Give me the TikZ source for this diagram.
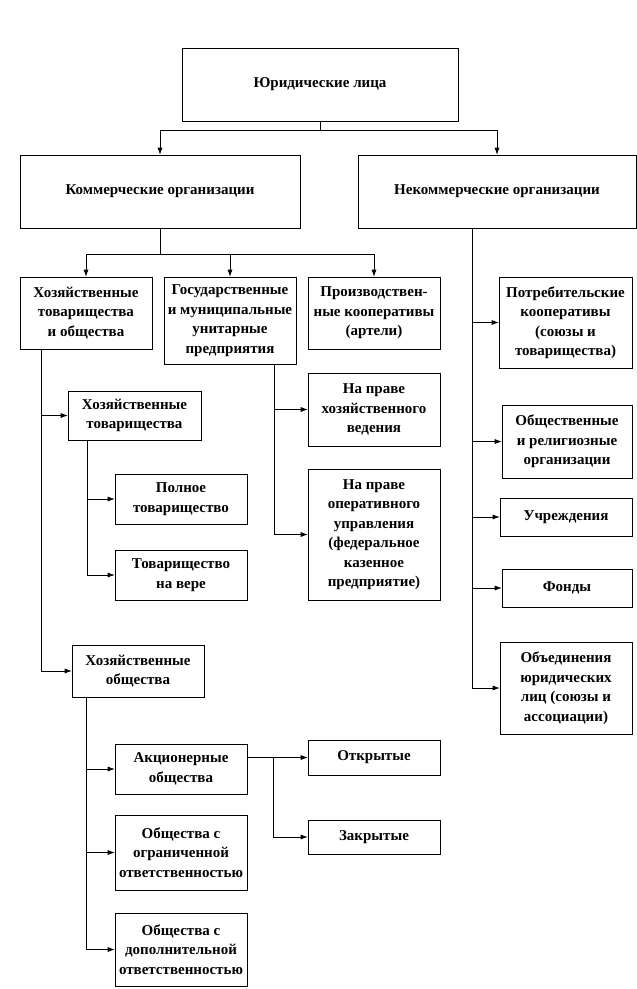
\documentclass[tikz,border=0pt]{standalone}
\usepackage{fontspec}
\setmainfont{Liberation Serif}
\usetikzlibrary{arrows.meta}
\tikzset{
  box/.style={draw, line width=0.6pt, align=center, inner sep=1pt,
    font=\bfseries\fontsize{15}{19.5}\selectfont},
  arr/.style={line width=0.6pt, -{Latex[length=7pt,width=5pt]}}
}
\begin{document}
\begin{tikzpicture}[x=1pt,y=1pt]
\useasboundingbox (0,0) rectangle (637,-989);
\node[box,minimum width=276pt,minimum height=73pt] (yur) at (320,-84.5) {Юридические лица};
\node[box,minimum width=280pt,minimum height=73pt] (komm) at (160,-191.5) {Коммерческие организации};
\node[box,minimum width=278pt,minimum height=73pt] (nekomm) at (497,-191.5) {Некоммерческие организации};
\node[box,minimum width=132pt,minimum height=72pt] (hto) at (86,-313) {Хозяйственные\\товарищества\\и общества};
\node[box,minimum width=132pt,minimum height=87pt] (gos) at (230,-320.5) {Государственные\\и муниципальные\\унитарные\\предприятия};
\node[box,minimum width=132pt,minimum height=72pt] (proizv) at (374,-313) {Производствен-\\ные кооперативы\\(артели)};
\node[box,minimum width=133pt,minimum height=91pt] (potreb) at (565.5,-322.5) {Потребительские\\кооперативы\\(союзы и\\товарищества)};
\node[box,minimum width=130pt,minimum height=73pt] (obshrel) at (567,-441.5) {Общественные\\и религиозные\\организации};
\node[box,minimum width=132pt,minimum height=38pt] (uchr) at (566,-517) {Учреждения};
\node[box,minimum width=130pt,minimum height=38pt] (fond) at (567,-588) {Фонды};
\node[box,minimum width=132pt,minimum height=92pt] (obied) at (566,-688) {Объединения\\юридических\\лиц (союзы и\\ассоциации)};
\node[box,minimum width=132pt,minimum height=73pt] (phv) at (374,-409.5) {На праве\\хозяйственного\\ведения};
\node[box,minimum width=132pt,minimum height=131pt] (pou) at (374,-534.5) {На праве\\оперативного\\управления\\(федеральное\\казенное\\предприятие)};
\node[box,minimum width=133pt,minimum height=49pt] (ht) at (134.5,-415.5) {Хозяйственные\\товарищества};
\node[box,minimum width=132pt,minimum height=50pt] (poln) at (181,-499) {Полное\\товарищество};
\node[box,minimum width=132pt,minimum height=50pt] (vera) at (181,-575) {Товарищество\\на вере};
\node[box,minimum width=132pt,minimum height=52pt] (ho) at (138,-671) {Хозяйственные\\общества};
\node[box,minimum width=132pt,minimum height=50pt] (ao) at (181,-769) {Акционерные\\общества};
\node[box,minimum width=132pt,minimum height=75pt] (ooo) at (181,-852.5) {Общества с\\ограниченной\\ответственностью};
\node[box,minimum width=132pt,minimum height=73pt] (odo) at (181,-949.5) {Общества с\\дополнительной\\ответственностью};
\node[box,minimum width=132pt,minimum height=35pt] (otkr) at (374,-757.5) {Открытые};
\node[box,minimum width=132pt,minimum height=34pt] (zakr) at (374,-837) {Закрытые};
% junctions
\coordinate (j1) at (320,-130);
\coordinate (j2) at (160,-254);
\coordinate (nk) at (472,-228);
\coordinate (j3) at (273,-757.5);
\draw[line width=0.6pt] (yur.south) -- (j1);
\draw[arr] (j1) -| (komm.north);
\draw[arr] (j1) -| (nekomm.north);
\draw[line width=0.6pt] (komm.south) -- (j2);
\draw[arr] (j2) -| (hto.north);
\draw[arr] (j2) -| (gos.north);
\draw[arr] (j2) -| (proizv.north);
\draw[arr] (nk) |- (potreb.west);
\draw[arr] (nk) |- (obshrel.west);
\draw[arr] (nk) |- (uchr.west);
\draw[arr] (nk) |- (fond.west);
\draw[arr] (nk) |- (obied.west);
\draw[arr] ([xshift=-22pt]gos.south east) |- (phv.west);
\draw[arr] ([xshift=-22pt]gos.south east) |- (pou.west);
\draw[arr] ([xshift=22pt]hto.south west) |- (ht.west);
\draw[arr] ([xshift=22pt]hto.south west) |- (ho.west);
\draw[arr] ([xshift=20pt]ht.south west) |- (poln.west);
\draw[arr] ([xshift=20pt]ht.south west) |- (vera.west);
\draw[arr] ([xshift=15pt]ho.south west) |- (ao.west);
\draw[arr] ([xshift=15pt]ho.south west) |- (ooo.west);
\draw[arr] ([xshift=15pt]ho.south west) |- (odo.west);
\draw[line width=0.6pt] (ao.east |- otkr.west) -- (j3);
\draw[arr] (j3) -- (otkr.west);
\draw[arr] (j3) |- (zakr.west);
\end{tikzpicture}
\end{document}
